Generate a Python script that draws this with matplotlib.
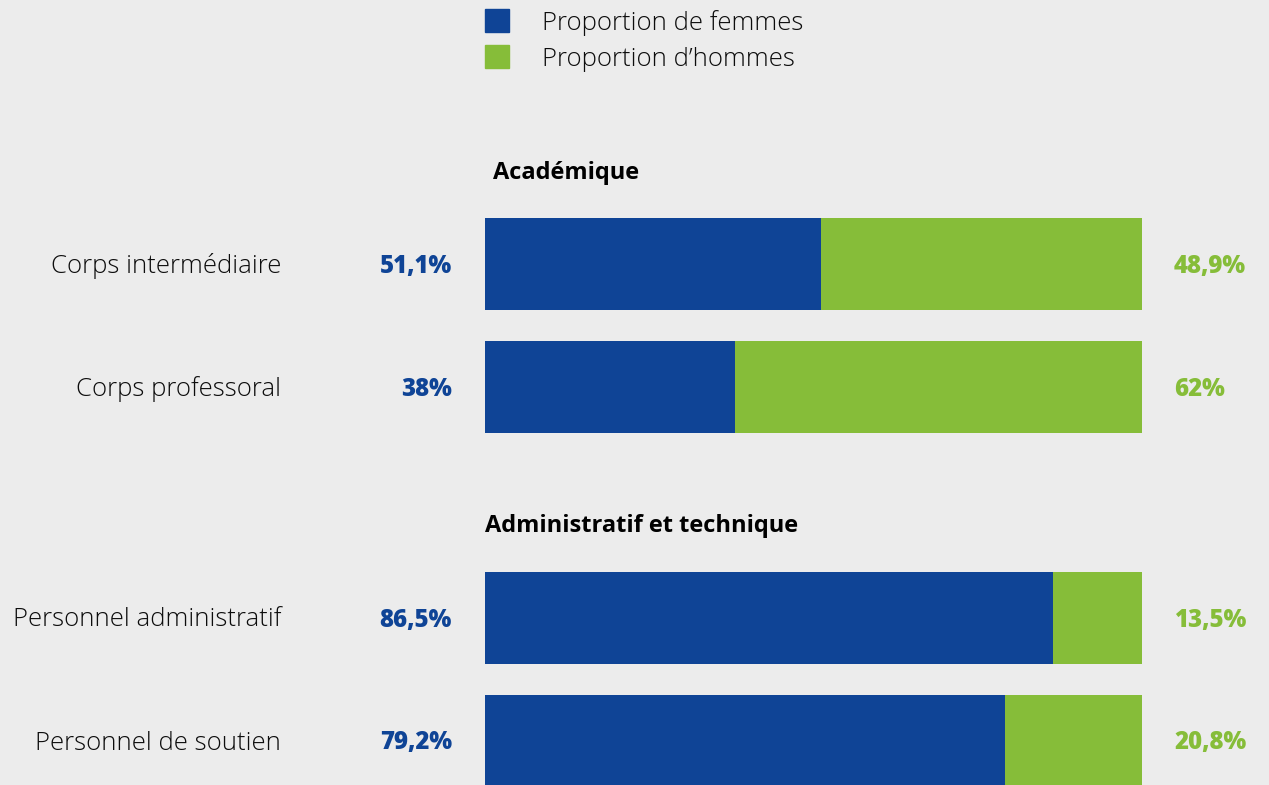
import matplotlib.pyplot as plt

# data
groups = ["Académique", "Administratif et technique"]
categories = ["Corps intermédiaire", "Corps professoral",
              "Personnel administratif", "Personnel de soutien"]
femmes = [51.1, 38.0, 86.5, 79.2]
hommes = [48.9, 62.0, 13.5, 20.8]
femmes_lbl = ["51,1%", "38%", "86,5%", "79,2%"]
hommes_lbl = ["48,9%", "62%", "13,5%", "20,8%"]
legend_labels = ["Proportion de femmes", "Proportion d\u2019hommes"]

blue = "#0f4496"
green = "#86bd39"
bg = "#ececec"
W, H = 1269, 785
plt.rcParams['font.family'] = ['Open Sans', 'DejaVu Sans']

fig = plt.figure(figsize=(W / 100, H / 100), dpi=100, facecolor=bg)

# overlay for text, pixel coords
ov = fig.add_axes([0, 0, 1, 1])
ov.set_xlim(0, W)
ov.set_ylim(H, 0)
ov.axis("off")

# bar axes: x 0..100 spans pixels 485..1142
bx0, bx1 = 485, 1142
ax = fig.add_axes([bx0 / W, 0, (bx1 - bx0) / W, 1])
ax.set_xlim(0, 100)
ax.set_ylim(H, 0)
ax.axis("off")

centers = [264, 387, 618, 741]
bh = 92
ax.barh(centers, femmes, height=bh, color=blue)
ax.barh(centers, hommes, left=femmes, height=bh, color=green)

for c, cat, fl, hl in zip(centers, categories, femmes_lbl, hommes_lbl):
    ov.text(281, c + 2, cat, ha="right", va="center", fontsize=18.5,
            fontweight="light", color="#0d0d0d")
    ov.text(452, c + 2, fl, ha="right", va="center", fontsize=17.3,
            fontweight="heavy", color=blue)
    ov.text(1174, c + 2, hl, ha="left", va="center", fontsize=17.3,
            fontweight="heavy", color=green)

# group headers
ov.text(493, 173, groups[0], ha="left", va="center", fontsize=17,
        fontweight="bold", color="black")
ov.text(485, 526, groups[1], ha="left", va="center", fontsize=17,
        fontweight="bold", color="black")

# legend
for yc, col, lbl in zip([20.5, 56.5], [blue, green], legend_labels):
    ov.add_patch(plt.Rectangle((485, yc - 11.5), 24, 23, color=col))
    ov.text(542, yc + 2.5, lbl, ha="left", va="center", fontsize=18.5,
            fontweight="light", color="#0d0d0d")

fig.savefig("out.png", dpi=100, facecolor=bg)
